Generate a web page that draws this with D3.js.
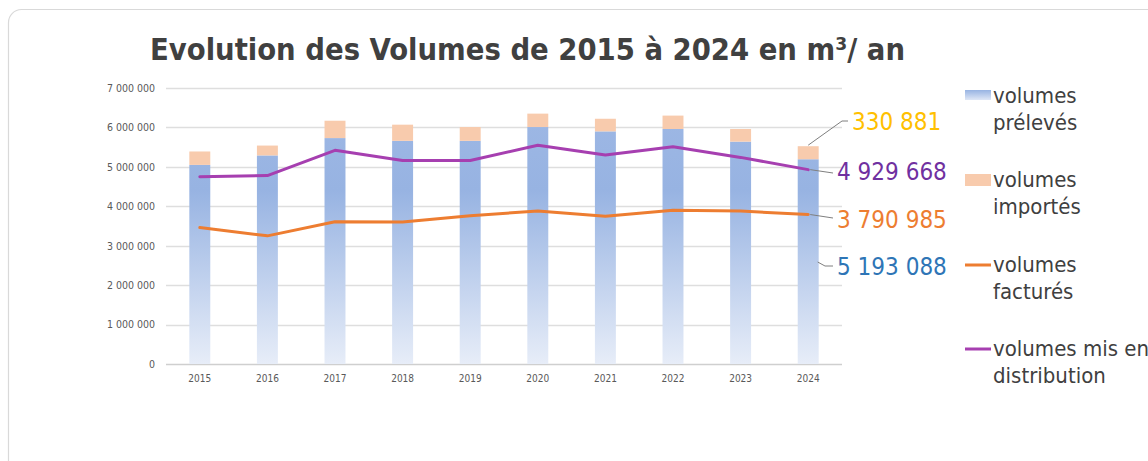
<!DOCTYPE html>
<html>
<head>
<meta charset="utf-8">
<script src="https://cdn.jsdelivr.net/npm/d3@7"></script>
<style>
  html, body { margin: 0; padding: 0; background: #fff; }
  svg { display: block; }
</style>
</head>
<body>
<svg id="area" width="1148" height="461"></svg>
<script>
// données (m3 / an)
const years = ['2015', '2016', '2017', '2018', '2019', '2020', '2021', '2022', '2023', '2024'];
const preleves = [5050000, 5290000, 5730000, 5660000, 5660000, 6010000, 5900000, 5960000, 5640000, 5193088];
const importes = [340000, 250000, 440000, 410000, 350000, 340000, 320000, 340000, 320000, 330881];
const factures = [3460000, 3250000, 3610000, 3600000, 3760000, 3880000, 3750000, 3900000, 3880000, 3790985];
const distribution = [4750000, 4780000, 5420000, 5160000, 5160000, 5550000, 5300000, 5510000, 5240000, 4929668];
const yTicks = [0, 1000000, 2000000, 3000000, 4000000, 5000000, 6000000, 7000000];

const title = 'Evolution des Volumes de 2015 à 2024 en m³/ an';
const legendItems = [
  { key: 'preleves', lines: ['volumes', 'prélevés'] },
  { key: 'importes', lines: ['volumes', 'importés'] },
  { key: 'factures', lines: ['volumes', 'facturés'] },
  { key: 'distribution', lines: ['volumes mis en', 'distribution'] },
];

const colors = {
  importes: '#f8cbad',
  factures: '#ed7d31',
  distribution: '#a63fb0',
};

const FONT = '"DejaVu Sans Condensed", "DejaVu Sans", sans-serif';
const fr = d3.formatLocale({ decimal: ',', thousands: ' ', grouping: [3], currency: ['', ' €'] });
const fmt = fr.format(',d');

const svg = d3.select('#area');
const margin = { top: 88, left: 166, right: 842, bottom: 364 };

// carte
svg.append('rect')
  .attr('x', 8.5)
  .attr('y', 9.5)
  .attr('width', 1170)
  .attr('height', 480)
  .attr('rx', 13)
  .attr('fill', '#fff')
  .attr('stroke', '#d9d9d9')
  .attr('stroke-width', 1.2);

const defs = svg.append('defs');

const x = d3.scaleBand()
  .domain(years)
  .range([margin.left, margin.right])
  .paddingInner(0.69)
  .paddingOuter(0.345);

const y = d3.scaleLinear()
  .domain([0, 7000000])
  .range([margin.bottom, margin.top]);

const grad = defs.append('linearGradient')
  .attr('id', 'blueGrad')
  .attr('gradientUnits', 'userSpaceOnUse')
  .attr('x1', 0).attr('x2', 0)
  .attr('y1', y(6300000))
  .attr('y2', y(0));
grad.append('stop').attr('offset', '0%').attr('stop-color', '#9db7e4');
grad.append('stop').attr('offset', '30%').attr('stop-color', '#97b3e2');
grad.append('stop').attr('offset', '100%').attr('stop-color', '#e7edf8');

const legGrad = defs.append('linearGradient')
  .attr('id', 'legGrad')
  .attr('x1', 0).attr('x2', 0)
  .attr('y1', 0).attr('y2', 1);
legGrad.append('stop').attr('offset', '0%').attr('stop-color', '#97b3e2');
legGrad.append('stop').attr('offset', '100%').attr('stop-color', '#dfe7f6');

// grille
svg.append('g')
  .selectAll('line')
  .data(yTicks)
  .join('line')
  .attr('x1', margin.left)
  .attr('x2', margin.right)
  .attr('y1', (d) => Math.round(y(d)) + 0.5)
  .attr('y2', (d) => Math.round(y(d)) + 0.5)
  .attr('stroke', (d) => (d === 0 ? '#cfcfcf' : '#dedede'))
  .attr('stroke-width', 1.3);

// axe y
const yAxis = d3.axisLeft(y).tickValues(yTicks).tickFormat(fmt).tickSize(0).tickPadding(11);
svg.append('g')
  .attr('transform', `translate(${margin.left}, 0)`)
  .call(yAxis)
  .call((g) => g.select('.domain').remove())
  .selectAll('text')
  .attr('fill', '#595959')
  .style('font-family', FONT)
  .style('font-size', '10.5px');

// axe x
const xAxis = d3.axisBottom(x).tickSize(0).tickPadding(11);
svg.append('g')
  .attr('transform', `translate(0, ${margin.bottom})`)
  .call(xAxis)
  .call((g) => g.select('.domain').remove())
  .selectAll('text')
  .attr('fill', '#595959')
  .style('font-family', FONT)
  .style('font-size', '10px');

// barres empilées
svg.append('g')
  .selectAll('rect')
  .data(years)
  .join('rect')
  .attr('x', (d) => x(d))
  .attr('y', (d, i) => y(preleves[i]))
  .attr('width', x.bandwidth())
  .attr('height', (d, i) => y(0) - y(preleves[i]))
  .attr('fill', 'url(#blueGrad)');

svg.append('g')
  .selectAll('rect')
  .data(years)
  .join('rect')
  .attr('x', (d) => x(d))
  .attr('y', (d, i) => y(preleves[i] + importes[i]))
  .attr('width', x.bandwidth())
  .attr('height', (d, i) => y(preleves[i]) - y(preleves[i] + importes[i]))
  .attr('fill', colors.importes);

// courbes
const cx = (d, i) => x(years[i]) + x.bandwidth() / 2;
const line = d3.line().x(cx).y((d) => y(d));

svg.append('path')
  .datum(factures)
  .attr('d', line)
  .attr('fill', 'none')
  .attr('stroke', colors.factures)
  .attr('stroke-width', 3)
  .attr('stroke-linejoin', 'round')
  .attr('stroke-linecap', 'round');

svg.append('path')
  .datum(distribution)
  .attr('d', line)
  .attr('fill', 'none')
  .attr('stroke', colors.distribution)
  .attr('stroke-width', 3)
  .attr('stroke-linejoin', 'round')
  .attr('stroke-linecap', 'round');

// étiquettes 2024 avec traits de rappel
const last = years.length - 1;
const lx = cx(null, last);
const bx = x(years[last]);
const labels = [
  {
    text: fmt(importes[last]), color: '#ffc000', baseline: 130,
    pts: [[lx, y(preleves[last] + importes[last]) - 1], [842, 121], [848, 121]], tx: 852,
  },
  {
    text: fmt(distribution[last]), color: '#7030a0', baseline: 180,
    pts: [[lx + 2, y(distribution[last])], [833, 173]], tx: 837,
  },
  {
    text: fmt(factures[last]), color: '#ed7d31', baseline: 228,
    pts: [[lx + 2, y(factures[last])], [833, 218]], tx: 837,
  },
  {
    text: fmt(preleves[last]), color: '#2e75b6', baseline: 275,
    pts: [[bx + x.bandwidth() - 1, 262], [825, 266], [833, 266]], tx: 837,
  },
];

labels.forEach((l) => {
  svg.append('path')
    .attr('d', d3.line()(l.pts))
    .attr('fill', 'none')
    .attr('stroke', '#7f7f7f')
    .attr('stroke-width', 1);
  svg.append('text')
    .attr('x', l.tx)
    .attr('y', l.baseline)
    .attr('fill', l.color)
    .style('font-family', FONT)
    .style('font-size', '24px')
    .text(l.text);
});

// titre
svg.append('text')
  .attr('x', 150)
  .attr('y', 60)
  .attr('fill', '#404040')
  .attr('textLength', 755)
  .attr('lengthAdjust', 'spacingAndGlyphs')
  .style('font-family', FONT)
  .style('font-weight', 'bold')
  .style('font-size', '31px')
  .text(title);

// légende
const legend = svg.append('g');
const legendTop = [103, 187, 272, 356];
legendItems.forEach((item, i) => {
  const top = legendTop[i];
  if (item.key === 'preleves') {
    legend.append('rect').attr('x', 965).attr('y', top - 13).attr('width', 26).attr('height', 10)
      .attr('fill', 'url(#legGrad)');
  } else if (item.key === 'importes') {
    legend.append('rect').attr('x', 965).attr('y', top - 13).attr('width', 26).attr('height', 12)
      .attr('fill', colors.importes);
  } else {
    legend.append('line').attr('x1', 965).attr('x2', 991).attr('y1', top - 7).attr('y2', top - 7)
      .attr('stroke', colors[item.key]).attr('stroke-width', 3);
  }
  item.lines.forEach((t, j) => {
    legend.append('text')
      .attr('x', 993)
      .attr('y', top + j * 26.5)
      .attr('fill', '#404040')
      .style('font-family', FONT)
      .style('font-size', '22px')
      .text(t);
  });
});
</script>
</body>
</html>
